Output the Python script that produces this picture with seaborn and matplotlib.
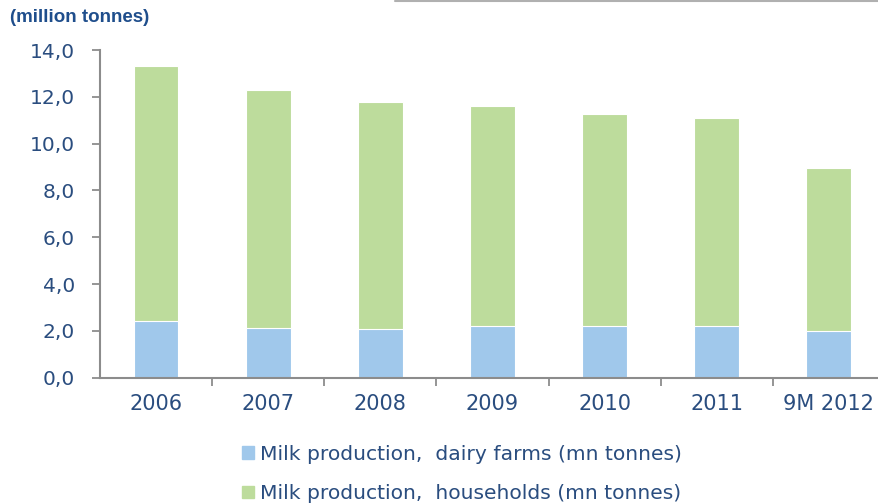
import matplotlib
matplotlib.use("Agg")
import matplotlib.pyplot as plt
import matplotlib.patches as mpatches
import matplotlib.lines as mlines
import seaborn as sns
import pandas as pd

years = ["2006", "2007", "2008", "2009", "2010", "2011", "9M 2012"]
dairy_farms = [2.43, 2.14, 2.07, 2.22, 2.22, 2.22, 1.99]
households = [10.88, 10.14, 9.69, 9.39, 9.03, 8.87, 6.98]
y_ticks = [0, 2, 4, 6, 8, 10, 12, 14]

df = pd.DataFrame({"year": years, "farms": dairy_farms, "households": households})
df["total"] = df["farms"] + df["households"]

sns.set_theme(style="white")
plt.rcParams["font.family"] = ["DejaVu Sans"]

text_color = "#2A4D7F"
blue = "#A0C8EB"
green = "#BDDC9C"
axis_gray = "#8C8C8C"

fig = plt.figure(figsize=(8.79, 5.04), dpi=100)
ax = fig.add_axes([100 / 879, 1 - 377.7 / 504, 785 / 879, (377.7 - 50) / 504])

sns.barplot(data=df, x="year", y="total", color=green, width=0.4,
            edgecolor="white", linewidth=0.8, saturation=1, ax=ax)
sns.barplot(data=df, x="year", y="farms", color=blue, width=0.4,
            edgecolor="white", linewidth=0.8, saturation=1, ax=ax)

ax.set_xlim(-0.5, 6.5)
ax.set_ylim(0, 14)
ax.set_yticks(y_ticks)
ax.set_yticklabels([f"{v:.1f}".replace(".", ",") for v in y_ticks])
ax.set_xlabel("")
ax.set_ylabel("")

# category boundary ticks on the x axis
ax.set_xticks([i + 0.5 for i in range(len(years) - 1)], minor=True)
ax.tick_params(axis="x", which="minor", bottom=True, length=6, width=1.3,
               color=axis_gray, direction="out")
ax.tick_params(axis="x", which="major", bottom=False, length=0, labelsize=15,
               colors=text_color, pad=12)
ax.tick_params(axis="y", which="major", left=True, length=6, width=1.3, color=axis_gray,
               direction="out", labelsize=14.5, labelcolor=text_color, pad=12)

for side in ["top", "right"]:
    ax.spines[side].set_visible(False)
for side in ["left", "bottom"]:
    ax.spines[side].set_color(axis_gray)
    ax.spines[side].set_linewidth(1.5)

fig.text(10 / 879, 1 - 18 / 504, "(million tonnes)", color="#1F4E8C",
         fontsize=13.5, fontweight="bold", va="center", ha="left",
         family=["Liberation Sans", "DejaVu Sans"])

# thin rule along the top edge
fig.add_artist(mlines.Line2D([395 / 879, 1], [1 - 1 / 504, 1 - 1 / 504],
                             color="#B0B0B0", linewidth=1.5, transform=fig.transFigure))

handles = [mpatches.Patch(color=blue, label="Milk production,  dairy farms (mn tonnes)"),
           mpatches.Patch(color=green, label="Milk production,  households (mn tonnes)")]
leg = fig.legend(handles=handles, loc="center", bbox_to_anchor=(462 / 879, 1 - 474 / 504),
                 frameon=False, fontsize=14.6, handlelength=0.6, handleheight=0.6,
                 handletextpad=0.3, labelspacing=1.0, ncol=1)
for t in leg.get_texts():
    t.set_color(text_color)

fig.savefig("out.png", dpi=100)
